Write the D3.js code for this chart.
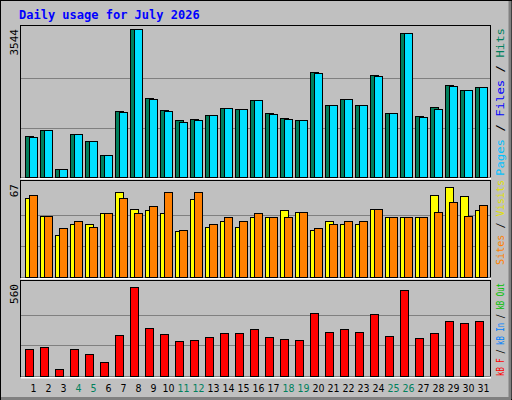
<!DOCTYPE html><html><head><script src="https://cdn.jsdelivr.net/npm/d3@7"></script>
<style>body{margin:0;background:#fff}</style></head><body><svg id="c" width="512" height="400"></svg>
<script>
const days=d3.range(1,32);
const weekend=[4,5,11,12,18,19,25,26];
const hits=[988,1133,193,1037,868,530,1591,3544,1880,1615,1374,1398,1494,1663,1639,1832,1543,1422,1374,2507,1736,1856,1736,2435,1543,3447,1470,1688,2194,2073,2145];
const files=[964,1133,193,1037,868,530,1567,3544,1856,1591,1326,1374,1494,1663,1639,1832,1519,1398,1374,2483,1736,1856,1736,2411,1543,3447,1446,1639,2170,2073,2145];
const visits=[57,44,30,38,38,46,61,49,48,46,33,56,36,40,36,43,43,48,47,34,40,38,38,49,43,43,43,59,65,58,48];
const sites=[59,44,35,40,36,46,57,46,51,61,34,61,38,43,40,46,43,43,47,35,38,40,40,49,43,43,43,47,54,44,52];
const kb=[165,177,41,165,135,88,247,542,295,253,212,218,236,259,259,289,236,224,218,383,265,289,265,377,242,524,230,259,336,324,336];
const maxTop=3544,maxMid=67,maxBot=560;
const svg=d3.select("#c");
svg.append("rect").attr("x",0.5).attr("y",0.5).attr("width",511).attr("height",399).attr("fill","#c0c0c0").attr("stroke","#000");
svg.append("line").attr("x1",1).attr("y1",398.5).attr("x2",511).attr("y2",398.5).attr("stroke","#808080").attr("stroke-width",3);
svg.append("line").attr("x1",510).attr("y1",1).attr("x2",510).attr("y2",399).attr("stroke","#808080").attr("stroke-width",3);
svg.append("text").attr("x",19).attr("y",19).attr("fill","#0000ff").attr("font-family","DejaVu Sans Mono").attr("font-weight","bold").attr("font-size",12).text("Daily usage for July 2026");
const x=d3.scaleBand().domain(days).range([21,486]).paddingInner(0);
const panels=[
 {y0:25,y1:177,max:maxTop,label:"3544"},
 {y0:180,y1:277,max:maxMid,label:"67"},
 {y0:280,y1:376,max:maxBot,label:"560"}];
panels.forEach(p=>{
 svg.append("rect").attr("x",20.5).attr("y",p.y0+0.5).attr("width",470).attr("height",p.y1-p.y0).attr("fill","none").attr("stroke","#000");
 svg.append("line").attr("x1",21).attr("x2",491).attr("y1",p.y1+1.5).attr("y2",p.y1+1.5).attr("stroke","#fff").attr("stroke-width",2);
 p.scale=d3.scaleLinear().domain([0,p.max]).range([p.y1,p.y0+4]);
 [1/3,2/3].forEach(f=>svg.append("line").attr("x1",21).attr("x2",490).attr("y1",Math.round(p.scale(p.max*f))+0.5).attr("y2",Math.round(p.scale(p.max*f))+0.5).attr("stroke","#808080"));
 svg.append("text").attr("transform",`translate(18,${p.y0+4}) rotate(-90)`).attr("text-anchor","end").attr("font-family","DejaVu Sans Mono").attr("font-size",11).text(p.label);
});
function bars(data,p,off,w,col){
 svg.append("g").selectAll("rect").data(data).join("rect")
  .attr("x",(d,i)=>Math.round(x(days[i]))+off+0.5).attr("width",w)
  .attr("y",d=>Math.round(p.scale(d))+0.5).attr("height",d=>p.y1-Math.round(p.scale(d)))
  .attr("fill",col).attr("stroke","#000");
}
bars(hits,panels[0],4,8,"#00805c");
bars(files,panels[0],8,8,"#00e0ff");
bars(visits,panels[1],4,8,"#ffff00");
bars(sites,panels[1],8,8,"#ff8000");
bars(kb,panels[2],4,8,"#ff0000");
svg.append("g").selectAll("text").data(days).join("text")
 .attr("x",d=>x(d)+x.bandwidth()/2+5).attr("y",392).attr("text-anchor","middle")
 .attr("font-family","DejaVu Sans Condensed").attr("font-size",10.5)
 .attr("fill",d=>weekend.includes(d)?"#00805c":"#000").text(d=>d);
function side(parts,yEnd,len){
 const t=svg.append("text").attr("transform",`translate(504,${yEnd}) rotate(-90)`).attr("font-family","DejaVu Sans Mono").attr("font-size",11)
  .attr("textLength",len).attr("lengthAdjust","spacingAndGlyphs");
 parts.forEach(([s,c])=>t.append("tspan").attr("fill",c).text(s));
}
side([["Pages","#00c0ff"],[" / ","#000"],["Files","#0000ff"],[" / ","#000"],["Hits","#00805c"]],176,148);
side([["Sites","#ff8000"],[" / ","#000"],["Visits","#e0e000"]],265,85);
side([["kB F","#ff0000"],[" / ","#000"],["kB In","#0080ff"],[" / ","#000"],["kB Out","#00c000"]],376,93);
</script></body></html>
